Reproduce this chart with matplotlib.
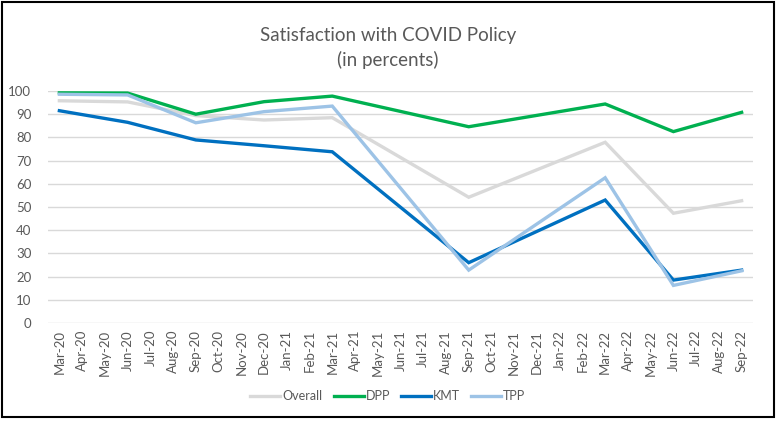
import matplotlib
matplotlib.use("Agg")
import matplotlib.pyplot as plt
from matplotlib.patches import Rectangle

months = [
    "Mar-20", "Apr-20", "May-20", "Jun-20", "Jul-20", "Aug-20", "Sep-20", "Oct-20",
    "Nov-20", "Dec-20", "Jan-21", "Feb-21", "Mar-21", "Apr-21", "May-21", "Jun-21",
    "Jul-21", "Aug-21", "Sep-21", "Oct-21", "Nov-21", "Dec-21", "Jan-22", "Feb-22",
    "Mar-22", "Apr-22", "May-22", "Jun-22", "Jul-22", "Aug-22", "Sep-22",
]
survey_months = ["Mar-20", "Jun-20", "Sep-20", "Dec-20", "Mar-21", "Sep-21", "Mar-22", "Jun-22", "Sep-22"]

overall = [95.8, 95.3, 89.4, 87.5, 88.5, 54.2, 77.9, 47.3, 52.7]
dpp = [99.2, 99.1, 90.0, 95.4, 97.8, 84.6, 94.4, 82.5, 90.8]
kmt = [91.5, 86.5, 78.9, 76.4, 73.8, 26.0, 53.0, 18.5, 22.8]
tpp = [98.6, 98.3, 86.3, 91.1, 93.5, 22.8, 62.6, 16.2, 22.5]

series = [
    ("Overall", overall, "#D9D9D9"),
    ("DPP", dpp, "#00B050"),
    ("KMT", kmt, "#0070C0"),
    ("TPP", tpp, "#9DC3E6"),
]

font = ["Lato", "DejaVu Sans"]
plt.rcParams["font.family"] = font
text_color = "#595959"

fig = plt.figure(figsize=(7.76, 4.23), dpi=100)
ax = fig.add_axes([48 / 776, 1 - 323 / 423, (753 - 48) / 776, (323 - 91) / 423])

x = [months.index(m) for m in survey_months]
for name, values, color in series:
    ax.plot(x, values, color=color, lw=2.4, label=name, solid_joinstyle="miter")

ax.set_xlim(-0.5, len(months) - 0.5)
ax.set_ylim(0, 100)
ax.set_yticks(range(0, 101, 10))
ax.set_xticks(range(len(months)))
ax.set_xticklabels(months, rotation=90)
ax.tick_params(axis="both", length=0, colors=text_color, labelsize=9.5)
ax.tick_params(axis="y", pad=12)
ax.tick_params(axis="x", pad=5)
ax.grid(axis="y", color="#D9D9D9", lw=1)
ax.set_axisbelow(True)
for s in ax.spines.values():
    s.set_visible(False)

fig.text(0.5, 1 - 35 / 423, "Satisfaction with COVID Policy", ha="center", va="center",
         fontsize=13.5, color=text_color)
fig.text(0.5, 1 - 60 / 423, "(in percents)", ha="center", va="center",
         fontsize=13.5, color=text_color)

leg = fig.legend(loc="center", bbox_to_anchor=(0.5, 1 - 396 / 423), ncol=4, frameon=False,
                 fontsize=9, handlelength=2.4, handletextpad=0.15, columnspacing=0.9)
for t in leg.get_texts():
    t.set_color(text_color)

fig.patches.append(Rectangle((1.5 / 776, 1 - 417 / 423), 772 / 776, 415 / 423,
                             transform=fig.transFigure, fill=False, ec="black", lw=1.5))

fig.savefig("out.png", dpi=100, facecolor="white")
